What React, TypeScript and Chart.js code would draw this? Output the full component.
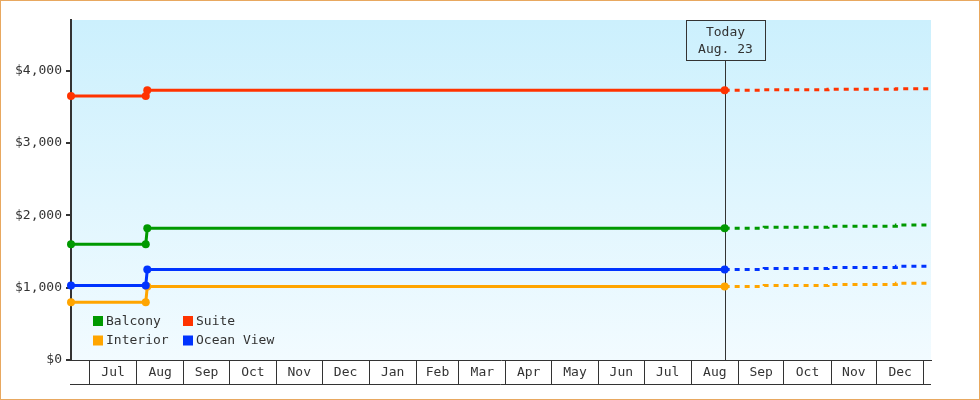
import { useEffect, useRef } from 'react';
import { Chart, registerables } from 'chart.js';

Chart.register(...registerables);

const DAY = 86400000;
const toX = (s: string) => Date.parse(s) / DAY;

// ---------- data ----------
const seriesNames = ['Balcony', 'Suite', 'Ocean View', 'Interior'];
const seriesColors = ['#009900', '#ff3300', '#0033ff', '#ffa500'];

const historyDates = ['2022-06-18T19:00:00Z', '2022-08-07T00:00:00Z', '2022-08-08T00:00:00Z', '2023-08-23T00:00:00Z'];
const balconyHistory = [1600, 1600, 1820, 1820];
const suiteHistory = [3650, 3650, 3730, 3730];
const oceanViewHistory = [1030, 1030, 1250, 1250];
const interiorHistory = [800, 800, 1015, 1015];

const forecastDates = [
  '2023-08-23T00:00:00Z', '2023-09-18T00:00:00Z', '2023-09-18T00:00:00Z', '2023-10-30T00:00:00Z',
  '2023-10-30T00:00:00Z', '2023-12-14T00:00:00Z', '2023-12-14T00:00:00Z', '2024-01-05T19:00:00Z',
];
const balconyForecast = [1820, 1820, 1835, 1835, 1850, 1850, 1865, 1865];
const suiteForecast = [3730, 3730, 3736, 3736, 3743, 3743, 3750, 3750];
const oceanViewForecast = [1250, 1250, 1265, 1265, 1280, 1280, 1295, 1295];
const interiorForecast = [1015, 1015, 1030, 1030, 1045, 1045, 1060, 1060];

const monthStarts = [
  '2022-07-01', '2022-08-01', '2022-09-01', '2022-10-01', '2022-11-01', '2022-12-01',
  '2023-01-01', '2023-02-01', '2023-03-01', '2023-04-01', '2023-05-01', '2023-06-01',
  '2023-07-01', '2023-08-01', '2023-09-01', '2023-10-01', '2023-11-01', '2023-12-01', '2024-01-01',
];
const monthLabels = ['Jul', 'Aug', 'Sep', 'Oct', 'Nov', 'Dec', 'Jan', 'Feb', 'Mar', 'Apr', 'May', 'Jun', 'Jul', 'Aug', 'Sep', 'Oct', 'Nov', 'Dec'];

const yTicks = [0, 1000, 2000, 3000, 4000];
const yMax = 4700;
const xMinDate = '2022-06-18T19:00:00Z';
const xMaxDate = '2024-01-05T19:00:00Z';

const todayDate = '2023-08-23T00:00:00Z';
const todayLabel = ['Today', 'Aug. 23'];

const legendRows = [
  ['Balcony', 'Suite'],
  ['Interior', 'Ocean View'],
];

const FONT = '"DejaVu Sans Mono", monospace';
const TEXT = '#333333';

const historySeries = [balconyHistory, suiteHistory, oceanViewHistory, interiorHistory];
const forecastSeries = [balconyForecast, suiteForecast, oceanViewForecast, interiorForecast];

export default function App() {
  const ref = useRef<HTMLCanvasElement | null>(null);

  useEffect(() => {
    document.body.style.margin = '0';
    const canvas = ref.current;
    if (!canvas) return;

    // combined tick list: boundary, mid, boundary, mid, ..., boundary
    const bounds = monthStarts.map(toX);
    const xTickValues: number[] = [];
    for (let i = 0; i < bounds.length; i++) {
      xTickValues.push(bounds[i]);
      if (i < bounds.length - 1) xTickValues.push((bounds[i] + bounds[i + 1]) / 2);
    }

    const datasets: any[] = [];
    seriesNames.forEach((name, i) => {
      datasets.push({
        label: name,
        data: historyDates.map((d, k) => ({ x: toX(d), y: historySeries[i][k] })),
        borderColor: seriesColors[i],
        backgroundColor: seriesColors[i],
        borderWidth: 3,
        pointRadius: 4,
        pointHoverRadius: 4,
        pointBorderWidth: 0,
        pointBackgroundColor: seriesColors[i],
        tension: 0,
        clip: false,
        fill: false,
      });
    });
    seriesNames.forEach((name, i) => {
      datasets.push({
        label: name + ' forecast',
        data: forecastDates.map((d, k) => ({ x: toX(d), y: forecastSeries[i][k] })),
        borderColor: seriesColors[i],
        backgroundColor: seriesColors[i],
        borderWidth: 3,
        borderDash: [5, 5],
        pointRadius: 0,
        tension: 0,
        clip: false,
        fill: false,
      });
    });

    const decor = {
      id: 'decor',
      beforeDraw(chart: any) {
        const { ctx, chartArea: a, width, height } = chart;
        ctx.save();
        ctx.fillStyle = '#ffffff';
        ctx.fillRect(0, 0, width, height);
        const g = ctx.createLinearGradient(0, a.top, 0, a.bottom);
        g.addColorStop(0, '#ccf0fd');
        g.addColorStop(1, '#f2fbff');
        ctx.fillStyle = g;
        ctx.fillRect(a.left, a.top, a.right - a.left, a.bottom - a.top);
        ctx.strokeStyle = '#e8a860';
        ctx.lineWidth = 1;
        ctx.strokeRect(0.5, 0.5, width - 1, height - 1);
        ctx.restore();
      },
      beforeDatasetsDraw(chart: any) {
        const { ctx, chartArea: a, scales } = chart;
        const x = Math.round(scales.x.getPixelForValue(toX(todayDate))) + 0.5;
        const boxW = 79;
        const boxH = 40;
        ctx.save();
        ctx.strokeStyle = TEXT;
        ctx.lineWidth = 1;
        ctx.beginPath();
        ctx.moveTo(x, a.top + boxH);
        ctx.lineTo(x, a.bottom);
        ctx.stroke();
        const bx = Math.round(x - boxW / 2) + 0.5;
        ctx.strokeRect(bx, a.top + 0.5, boxW, boxH);
        ctx.fillStyle = TEXT;
        ctx.font = `13px ${FONT}`;
        ctx.textAlign = 'center';
        ctx.textBaseline = 'middle';
        ctx.fillText(todayLabel[0], x, a.top + 12.5);
        ctx.fillText(todayLabel[1], x, a.top + 30);
        // bottom line of the month boxes
        const xs = scales.x;
        ctx.beginPath();
        ctx.moveTo(a.left - 1, xs.bottom - 0.5);
        ctx.lineTo(a.right, xs.bottom - 0.5);
        ctx.stroke();
        ctx.restore();
      },
      afterDatasetsDraw(chart: any) {
        const { ctx, chartArea: a } = chart;
        ctx.save();
        ctx.font = `13px ${FONT}`;
        ctx.textAlign = 'left';
        ctx.textBaseline = 'middle';
        legendRows.forEach((row, r) => {
          row.forEach((name, c) => {
            const idx = seriesNames.indexOf(name);
            const bx = a.left + 22 + c * 90;
            const by = a.bottom - 44 + r * 19.5;
            ctx.fillStyle = seriesColors[idx];
            ctx.fillRect(bx, by, 10, 10);
            ctx.fillStyle = TEXT;
            ctx.fillText(name, bx + 13, by + 5.5);
          });
        });
        ctx.restore();
      },
    };

    const chart = new Chart(canvas, {
      type: 'line',
      data: { datasets },
      plugins: [decor],
      options: {
        animation: false,
        responsive: false,
        events: [],
        layout: { padding: { top: 20, right: 49, bottom: 15, left: 0 } },
        plugins: { legend: { display: false }, tooltip: { enabled: false } },
        scales: {
          x: {
            type: 'linear',
            min: toX(xMinDate),
            max: toX(xMaxDate),
            afterBuildTicks: (s: any) => {
              s.ticks = xTickValues.map((v) => ({ value: v }));
            },
            afterFit: (s: any) => {
              s.height = 25;
            },
            grid: {
              drawOnChartArea: false,
              tickLength: 25,
              lineWidth: 1,
              color: (ctx: any) => (ctx.index % 2 === 1 ? 'rgba(0,0,0,0)' : TEXT),
            },
            border: { display: true, color: TEXT, width: 1 },
            ticks: {
              autoSkip: false,
              maxRotation: 0,
              minRotation: 0,
              padding: -20,
              color: TEXT,
              font: { family: FONT, size: 13 },
              callback: (_v: any, i: number) => (i % 2 === 1 ? monthLabels[(i - 1) / 2] : ''),
            },
          },
          y: {
            type: 'linear',
            min: 0,
            max: yMax,
            afterBuildTicks: (s: any) => {
              s.ticks = yTicks.map((v) => ({ value: v }));
            },
            afterFit: (s: any) => {
              s.width = 71;
            },
            grid: { drawOnChartArea: false, tickLength: 5, lineWidth: 2, color: TEXT },
            border: { display: true, color: TEXT, width: 2 },
            ticks: {
              padding: 4,
              color: TEXT,
              font: { family: FONT, size: 13 },
              callback: (v: any) => '$' + Number(v).toLocaleString('en-US'),
            },
          },
        },
      } as any,
    });

    return () => chart.destroy();
  }, []);

  return (
    <div style={{ width: 980, height: 400 }}>
      <canvas ref={ref} width={980} height={400} style={{ display: 'block' }} />
    </div>
  );
}
